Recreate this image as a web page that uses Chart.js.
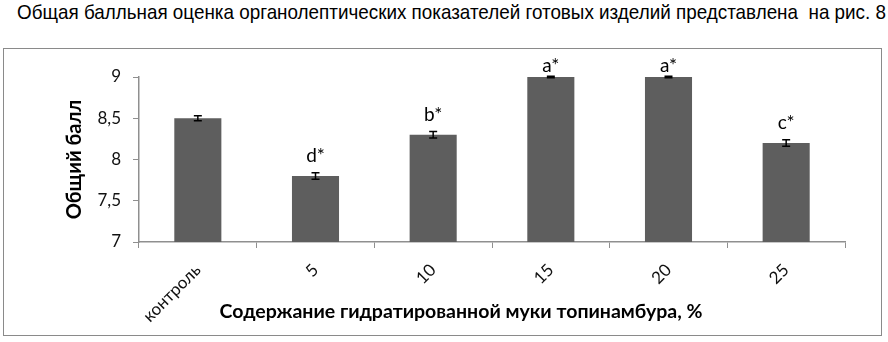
<!DOCTYPE html>
<html><head><meta charset="utf-8">
<script src="https://cdn.jsdelivr.net/npm/chart.js@4.4.1/dist/chart.umd.min.js"></script>
<style>
html,body{margin:0;padding:0;background:#fff;width:888px;height:342px;overflow:hidden}
#title{position:absolute;left:17px;top:-2px;font:21px "Liberation Sans Narrow","Arial Narrow","Liberation Sans",sans-serif;color:#000;white-space:nowrap;line-height:27px;transform-origin:0 0}
#box{position:absolute;left:3px;top:48px;width:877px;height:286px;border:1px solid #8a8a8a}
canvas{display:block}
</style></head>
<body>
<div id="title">Общая балльная оценка органолептических показателей готовых изделий представлена&nbsp; на рис. 8</div>
<div id="box"><canvas id="c" width="877" height="286"></canvas></div>
<script>
const categories = ['контроль', '5', '10', '15', '20', '25'];
const scores = [8.5, 7.8, 8.3, 9.0, 9.0, 8.2];
const errors = [0.03, 0.04, 0.04, 0.01, 0.01, 0.04];
const letters = ['', 'd*', 'b*', 'a*', 'a*', 'c*'];
const yTitle = 'Общий балл';
const xTitle = 'Содержание гидратированной муки топинамбура, %';

// fit title width
(function(){const t=document.getElementById('title');const w=t.getBoundingClientRect().width;t.style.transform='scaleX('+(869/w)+')';})();

const FONT = 'Lato, Carlito, "Open Sans", sans-serif';

const overlay = {
  id: 'overlay',
  afterDatasetsDraw(chart) {
    const ctx = chart.ctx;
    const meta = chart.getDatasetMeta(0);
    const y = chart.scales.y;
    const area = chart.chartArea;
    ctx.save();
    meta.data.forEach((bar, i) => {
      const x = bar.x;
      const yHi = y.getPixelForValue(scores[i] + errors[i]);
      const yLo = y.getPixelForValue(scores[i] - errors[i]);
      ctx.strokeStyle = '#000';
      ctx.lineWidth = 1.5;
      ctx.beginPath();
      ctx.moveTo(x, yHi); ctx.lineTo(x, yLo);
      ctx.moveTo(x - 4, yHi); ctx.lineTo(x + 4, yHi);
      ctx.moveTo(x - 4, yLo); ctx.lineTo(x + 4, yLo);
      ctx.stroke();
      if (letters[i]) {
        ctx.fillStyle = '#000';
        ctx.font = '19px ' + FONT;
        ctx.textAlign = 'center';
        ctx.textBaseline = 'alphabetic';
        const base = Math.max(bar.y - 14, area.top - 5);
        ctx.fillText(letters[i], x, base);
      }
    });
    // x-axis title
    ctx.fillStyle = '#000';
    ctx.font = 'bold 19.5px ' + FONT;
    ctx.textAlign = 'center';
    ctx.textBaseline = 'middle';
    ctx.fillText(xTitle, (area.left + area.right) / 2 - 31, chart.height - 23);
    ctx.restore();
  }
};

new Chart(document.getElementById('c'), {
  type: 'bar',
  data: {
    labels: categories,
    datasets: [{
      data: scores,
      backgroundColor: '#5e5e5e',
      borderWidth: 0,
      barPercentage: 0.4,
      categoryPercentage: 1.0
    }]
  },
  options: {
    responsive: false,
    animation: false,
    events: [],
    layout: { padding: { left: 0, right: 36, top: 28, bottom: 0 } },
    plugins: { legend: { display: false }, tooltip: { enabled: false }, title: { display: false } },
    scales: {
      x: {
        grid: { display: true, drawOnChartArea: false, drawTicks: true, tickLength: 6, color: '#8f8f8f', offset: true },
        border: { display: true, color: '#8f8f8f', width: 1.5 },
        ticks: { color: '#111', font: { family: FONT, size: 17 }, minRotation: 45, maxRotation: 45, padding: 12 },
        afterFit: s => { s.height = 93; }
      },
      y: {
        min: 7, max: 9,
        ticks: { stepSize: 0.5, color: '#111', font: { family: FONT, size: 17 }, padding: 12,
          callback: v => String(v).replace('.', ',') },
        grid: { display: true, drawOnChartArea: false, drawTicks: true, tickLength: 6, color: '#8f8f8f' },
        border: { display: true, color: '#8f8f8f', width: 1.5 },
        title: { display: true, text: yTitle, color: '#000', font: { family: FONT, size: 20, weight: 'bold' }, padding: { top: 59, bottom: 0 } },
        afterFit: s => { s.width = 135; }
      }
    }
  },
  plugins: [overlay]
});
</script>
</body></html>
